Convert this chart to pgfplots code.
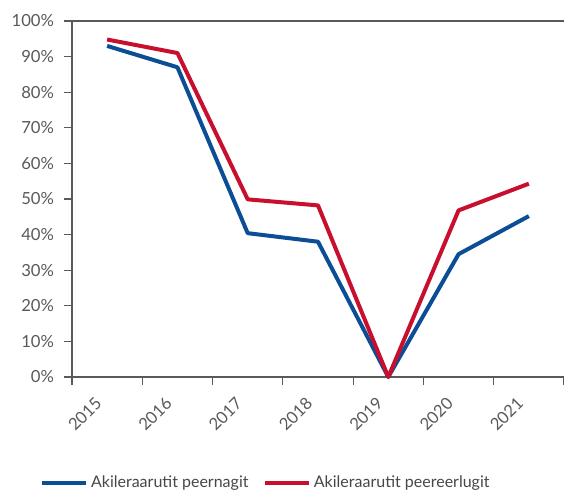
\documentclass[border=0pt]{standalone}
\usepackage{pgfplots}
\pgfplotsset{compat=1.18}
\usepackage{fontspec}
\setmainfont{Lato}
\definecolor{txtgray}{HTML}{595959}
\definecolor{axgray}{HTML}{595959}
\definecolor{nblue}{HTML}{0B4E96}
\definecolor{nred}{HTML}{C8102E}
\begin{document}
\begin{tikzpicture}[x=1pt,y=1pt]
\useasboundingbox (-54,-87) rectangle (369,282.75);
\begin{axis}[
    scale only axis,
    width=369pt, height=267pt,
    at={(0,0)}, anchor=south west,
    xmin=-0.5, xmax=6.5,
    ymin=0, ymax=100,
    axis lines*=left,
    axis line style={axgray, line width=0.8pt},
    every tick/.style={axgray, line width=0.8pt},
    tick align=outside,
    xtick={0,...,6},
    xticklabels={2015,2016,2017,2018,2019,2020,2021},
    major x tick style={draw=none},
    minor xtick={-0.5,0.5,...,6.5},
    minor tick length=6pt,
    major tick length=6pt,
    x tick label style={xshift=-4pt, yshift=-9pt, rotate=45, anchor=east},
    y tick label style={xshift=-4pt},
    ytick={0,10,...,100},
    yticklabel={\pgfmathprintnumber{\tick}\%},
    extra y ticks={100},
    extra y tick labels={},
    extra y tick style={grid=major, major grid style={axgray, line width=0.8pt}, major tick length=0pt},
    tick label style={font=\fontsize{12.5}{14}\selectfont, text=txtgray},
    /pgf/number format/assume math mode=true,
    legend style={at={(0.395,-0.298)}, anchor=center, draw=none, fill=none,
        legend columns=2, font=\fontsize{12}{14}\selectfont, text=txtgray!80!black,
        /tikz/every even column/.append style={column sep=9pt}},
    legend image code/.code={\draw[#1, line width=3pt] (0pt,0pt) -- (33pt,0pt);},
    clip=false,
]
\addplot[nblue, line width=3pt, line join=round] coordinates {
    (0,93.0) (1,87.0) (2,40.4) (3,38.0) (4,0) (5,34.5) (6,45.2)
};
\addlegendentry{Akileraarutit peernagit}
\addplot[nred, line width=3pt, line join=round] coordinates {
    (0,94.8) (1,91.0) (2,49.9) (3,48.2) (4,0) (5,46.8) (6,54.3)
};
\addlegendentry{Akileraarutit peereerlugit}
\end{axis}
\end{tikzpicture}
\end{document}
